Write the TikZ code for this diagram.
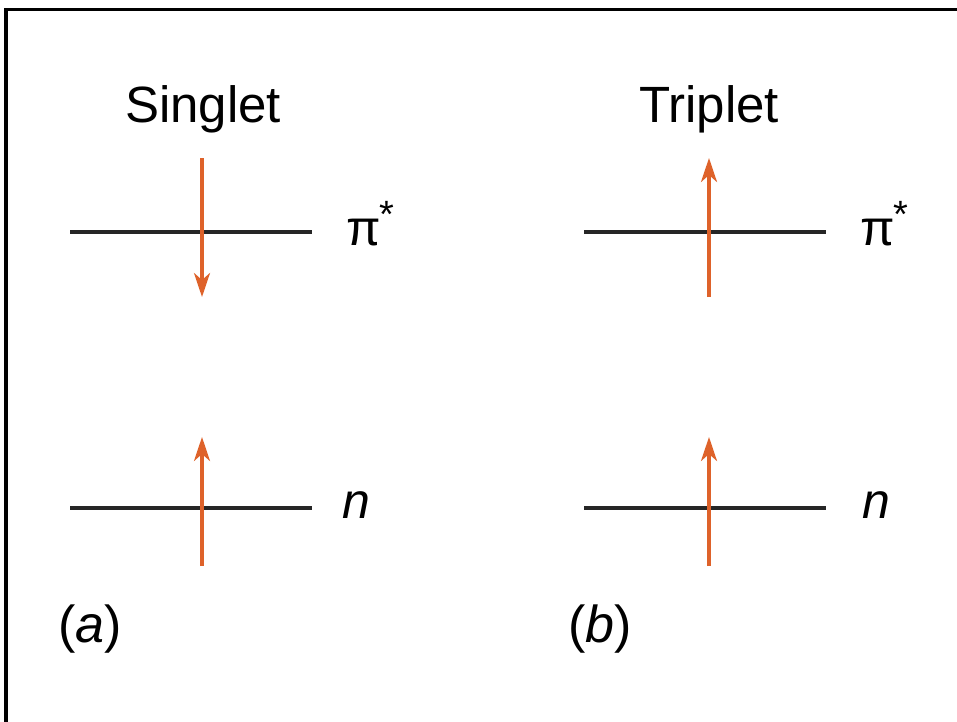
\documentclass[tikz,border=0pt]{standalone}
\usepackage{fontspec}
\setmainfont{Liberation Sans}
\usetikzlibrary{arrows.meta}
\definecolor{spin}{RGB}{222,98,42}
\begin{document}
\begin{tikzpicture}[x=1pt,y=-1pt,
  level/.style={line width=3.2pt,black!85},
  spinarrow/.style={line width=3.4pt,spin,-{Stealth[length=24pt,width=16pt,inset=7pt]}},
  title/.style={anchor=base,inner sep=0pt,font=\fontsize{51}{51}\selectfont},
  lab/.style={anchor=base west,inner sep=0pt,font=\fontsize{50}{50}\selectfont},
  frame/.style={line width=3.5pt,black}]
\useasboundingbox (0,0) rectangle (957,721);
\draw[frame] (6,730) -- (6,9.5) -- (965,9.5);
% titles
\node[title] (ts) at (203,122) {Singlet};
\node[title] (tt) at (709,122) {Triplet};
% energy levels
\coordinate (aPl) at (70,232); \coordinate (aPr) at (312,232);
\coordinate (aNl) at (70,508); \coordinate (aNr) at (312,508);
\coordinate (bPl) at (584,232); \coordinate (bPr) at (826,232);
\coordinate (bNl) at (584,508); \coordinate (bNr) at (826,508);
\draw[level] (aPl) -- (aPr);
\draw[level] (aNl) -- (aNr);
\draw[level] (bPl) -- (bPr);
\draw[level] (bNl) -- (bNr);
% spins
\coordinate (a1s) at (202,158); \coordinate (a1e) at (202,297);
\coordinate (a2s) at (202,566); \coordinate (a2e) at (202,437);
\coordinate (b1s) at (709,297); \coordinate (b1e) at (709,158);
\coordinate (b2s) at (709,566); \coordinate (b2e) at (709,437);
\draw[spinarrow] (a1s) -- (a1e);
\draw[spinarrow] (a2s) -- (a2e);
\draw[spinarrow] (b1s) -- (b1e);
\draw[spinarrow] (b2s) -- (b2e);
% level labels
\node[lab] (api) at (346,245) {π\kern-1pt\raisebox{0.36em}{\fontsize{38}{38}\selectfont *}};
\node[lab] (bpi) at (860,245) {π\kern-1pt\raisebox{0.36em}{\fontsize{38}{38}\selectfont *}};
\node[lab] (an) at (342,518) {\itshape n};
\node[lab] (bn) at (862,518) {\itshape n};
% panel labels
\node[lab,font=\fontsize{52}{52}\selectfont] (pa) at (58,642) {(\textit{a})};
\node[lab,font=\fontsize{52}{52}\selectfont] (pb) at (568,642) {(\textit{b})};
\end{tikzpicture}
\end{document}
